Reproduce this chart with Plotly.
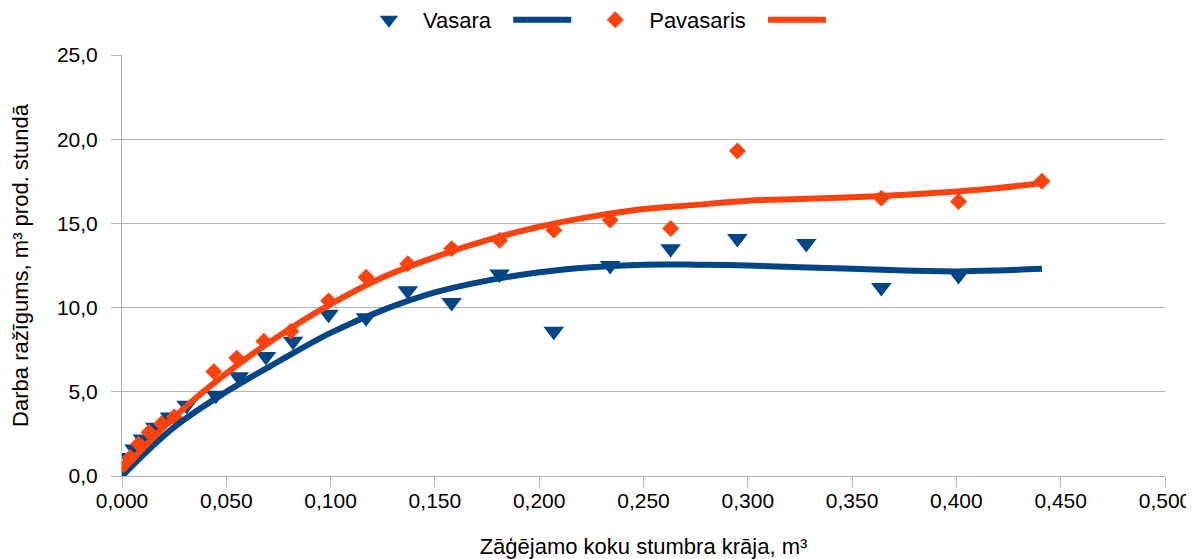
import plotly.graph_objects as go

# --- data ---
vasara_x = [0.000, 0.001, 0.003, 0.006, 0.010, 0.016, 0.023, 0.031, 0.045, 0.056, 0.069,
            0.082, 0.099, 0.117, 0.137, 0.158, 0.181, 0.207, 0.234, 0.263, 0.295, 0.328,
            0.364, 0.401]
vasara_y = [0.2, 0.6, 1.1, 1.6, 2.2, 2.9, 3.5, 4.2, 4.8, 5.9, 7.1,
            8.0, 9.6, 9.4, 11.0, 10.3, 12.0, 8.6, 12.5, 13.5, 14.1, 13.8,
            11.2, 11.9]

pavasaris_x = [0.001, 0.004, 0.008, 0.013, 0.019, 0.025, 0.044, 0.055, 0.068, 0.081, 0.099,
               0.117, 0.137, 0.158, 0.181, 0.207, 0.234, 0.263, 0.295, 0.364, 0.401, 0.441]
pavasaris_y = [0.5, 1.1, 1.9, 2.6, 3.1, 3.5, 6.2, 7.0, 8.0, 8.6, 10.4,
               11.8, 12.6, 13.5, 14.0, 14.6, 15.2, 14.7, 19.3, 16.5, 16.3, 17.5]

# trend curves
trend_x = [0.000, 0.025, 0.050, 0.075, 0.100, 0.125, 0.150, 0.175, 0.200, 0.225,
           0.250, 0.275, 0.300, 0.325, 0.350, 0.375, 0.400, 0.420, 0.441]
vasara_trend = [0.0, 2.9, 5.0, 6.8, 8.5, 9.85, 10.9, 11.6, 12.1, 12.4,
                12.55, 12.55, 12.5, 12.4, 12.3, 12.2, 12.15, 12.2, 12.3]
pavasaris_trend = [0.3, 3.5, 6.1, 8.3, 10.2, 11.8, 13.0, 14.0, 14.8, 15.4,
                   15.85, 16.1, 16.35, 16.45, 16.55, 16.7, 16.9, 17.1, 17.4]

x_ticks = [0.0, 0.05, 0.1, 0.15, 0.2, 0.25, 0.3, 0.35, 0.4, 0.45, 0.5]
y_ticks = [0, 5, 10, 15, 20, 25]

BLUE = "#004586"
ORANGE = "#ff420e"
GRID = "#b3b3b3"
FONT = "Liberation Sans, Arial, sans-serif"
NB = "\u00a0"

W, H = 1186, 551  # page body has an 8px margin

fig = go.Figure()
fig.add_trace(go.Scatter(x=vasara_x, y=vasara_y, mode="markers", name="Vasara" + NB * 2,
                         marker=dict(symbol="triangle-down", size=18, color=BLUE),
                         legendrank=1))
fig.add_trace(go.Scatter(x=pavasaris_x, y=pavasaris_y, mode="markers",
                         name="Pavasaris" + NB * 2,
                         marker=dict(symbol="diamond", size=13, color=ORANGE),
                         legendrank=3))
fig.add_trace(go.Scatter(x=trend_x, y=vasara_trend, mode="lines", name="",
                         line=dict(color=BLUE, width=6, shape="spline"),
                         legendrank=2))
fig.add_trace(go.Scatter(x=trend_x, y=pavasaris_trend, mode="lines", name="",
                         line=dict(color=ORANGE, width=6, shape="spline"),
                         legendrank=4))

fig.update_layout(
    width=W, height=H,
    paper_bgcolor="white", plot_bgcolor="white",
    margin=dict(l=114, r=29, t=47, b=83),
    separators=", ",
    font=dict(family=FONT, size=21, color="#000000"),
    showlegend=True,
    legend=dict(orientation="h", x=0.2233, xanchor="left",
                y=1 - 12 / H, yanchor="middle", yref="container",
                font=dict(size=22), itemwidth=58, traceorder="normal"),
    xaxis=dict(range=[0, 0.5], tickvals=x_ticks, tickformat=".3f",
               showgrid=False, zeroline=False, showline=True, linecolor=GRID, linewidth=1,
               ticks="outside", ticklen=10, tickcolor=GRID, automargin=False,
               ticklabelstandoff=-4,
               title=dict(text="Zāģējamo koku stumbra krāja, m³", standoff=29,
                          font=dict(size=22)),
               tickfont=dict(size=21)),
    yaxis=dict(range=[0, 25], tickvals=y_ticks, tickformat=".1f",
               showgrid=True, gridcolor=GRID, gridwidth=1, zeroline=False,
               showline=True, linecolor=GRID, linewidth=1,
               ticks="outside", ticklen=10, tickcolor=GRID, automargin=False,
               ticklabelstandoff=9,
               title=dict(text="Darba ražīgums, m³ prod. stundā", standoff=26,
                          font=dict(size=22)),
               tickfont=dict(size=21)),
)

fig.write_html("out.html")
